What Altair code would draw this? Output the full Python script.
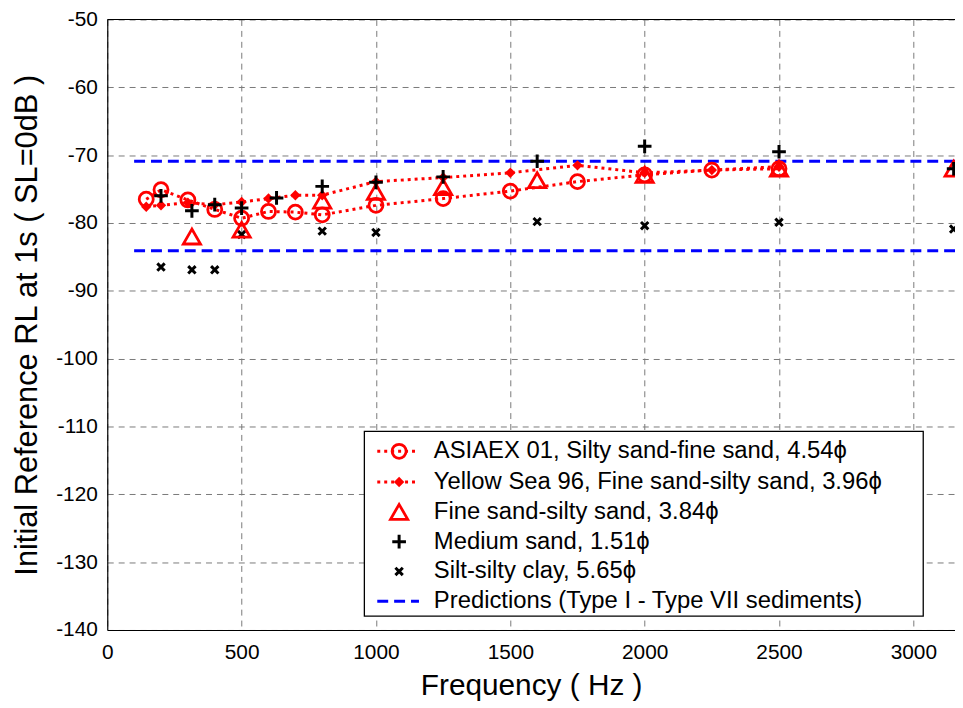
import altair as alt
import pandas as pd

# ---------------- data ----------------
asiaex_f = [145, 200, 300, 400, 500, 600, 700, 800, 1000, 1250, 1500, 1750, 2000, 2250, 2500]
asiaex_v = [-76.5, -75.1, -76.6, -78.0, -79.3, -78.3, -78.4, -78.8, -77.4, -76.4, -75.3, -73.9, -72.9, -72.2, -72.0]

yellow_f = [145, 200, 300, 400, 500, 600, 700, 800, 1000, 1250, 1500, 1750, 2000, 2250, 2500]
yellow_v = [-77.6, -77.4, -77.0, -77.3, -76.9, -76.4, -75.9, -75.9, -73.9, -73.3, -72.6, -71.5, -72.6, -72.2, -71.7]

fine_f = [315, 500, 800, 1000, 1250, 1600, 2000, 2500, 3150]
fine_v = [-82.0, -81.0, -76.7, -75.4, -74.7, -73.7, -72.9, -72.0, -72.0]

medium_f = [200, 315, 400, 500, 630, 800, 1000, 1250, 1600, 2000, 2500, 3150]
medium_v = [-76.0, -78.2, -77.3, -77.8, -76.3, -74.6, -74.0, -73.2, -70.9, -68.7, -69.5, -72.0]

silt_f = [200, 315, 400, 500, 800, 1000, 1600, 2000, 2500, 3150]
silt_v = [-86.5, -86.9, -86.9, -81.7, -81.2, -81.4, -79.8, -80.4, -79.9, -80.9]

pred_levels = [-70.9, -84.1]
pred_f_range = [100, 3155]

x_ticks = [0, 500, 1000, 1500, 2000, 2500, 3000]
y_ticks = [-50, -60, -70, -80, -90, -100, -110, -120, -130, -140]

legend_labels = [
    "ASIAEX 01, Silty sand-fine sand, 4.54\u03d5",
    "Yellow Sea 96, Fine sand-silty sand, 3.96\u03d5",
    "Fine sand-silty sand, 3.84\u03d5",
    "Medium sand, 1.51\u03d5",
    "Silt-silty clay, 5.65\u03d5",
    "Predictions (Type I - Type VII sediments)",
]

# ---------------- styling ----------------
FONT = "Liberation Sans"
RED = "#ff0000"
BLUE = "#0000ff"
W, H = 854, 615
XMAX = 3155
PLUS = "M-1,0L1,0M0,-1L0,1"
XMARK = "M-1,-1L1,1M-1,1L1,-1"
PLUS_SIZE = 190
XMARK_SIZE = 55
CIRCLE_SIZE = 200
TRI_SIZE = 300

xs = alt.Scale(domain=[0, XMAX], nice=False, zero=False)
ys = alt.Scale(domain=[-140, -50], nice=False, zero=False)

common_axis = dict(grid=True, gridDash=[6, 5], gridColor="#7a7a7a", gridWidth=1, gridOpacity=1,
                   domainColor="black", domainWidth=1.2, tickColor="black", tickSize=0,
                   labelFont=FONT, labelFontSize=21, labelColor="black",
                   labelExpr="'' + datum.value", labelFlush=False,
                   titleFont=FONT, titleFontWeight="normal", titleColor="black")
xax = alt.Axis(values=x_ticks, title="Frequency ( Hz )", labelPadding=12,
               titleFontSize=30, titlePadding=8, **common_axis)
yax = alt.Axis(values=y_ticks, title="Initial Reference RL at 1s ( SL=0dB )", labelPadding=10,
               titleFontSize=31, titlePadding=12, **common_axis)

df_a = pd.DataFrame({"f": asiaex_f, "v": asiaex_v})
df_y = pd.DataFrame({"f": yellow_f, "v": yellow_v})
df_fi = pd.DataFrame({"f": fine_f, "v": fine_v})
df_m = pd.DataFrame({"f": medium_f, "v": medium_v})
df_s = pd.DataFrame({"f": silt_f, "v": silt_v})
df_p = pd.DataFrame({"lvl": pred_levels, "f1": [pred_f_range[0]] * 2, "f2": [pred_f_range[1]] * 2})

base_enc = dict(x=alt.X("f:Q", scale=xs, axis=xax), y=alt.Y("v:Q", scale=ys, axis=yax))

layers = []
# top frame line
layers.append(alt.Chart(pd.DataFrame({"v": [-50]})).mark_rule(color="black", strokeWidth=1.2).encode(
    x=alt.value(0), x2=alt.value(W), y=alt.Y("v:Q", scale=ys, axis=yax)))

# predictions
layers.append(alt.Chart(df_p).mark_rule(color=BLUE, strokeWidth=3, strokeDash=[11, 6]).encode(
    x=alt.X("f1:Q", scale=xs, axis=xax), x2="f2:Q", y=alt.Y("lvl:Q", scale=ys, axis=yax)))

# silt
layers.append(alt.Chart(df_s).mark_point(shape=XMARK, size=XMARK_SIZE, filled=False, color="black",
                                          strokeWidth=3, opacity=1).encode(**base_enc))
# ASIAEX
layers.append(alt.Chart(df_a).mark_line(color=RED, strokeWidth=3, strokeDash=[3, 4]).encode(**base_enc))
layers.append(alt.Chart(df_a).mark_point(shape="circle", size=CIRCLE_SIZE, filled=False, color=RED,
                                          strokeWidth=2.8, opacity=1).encode(**base_enc))
# Yellow Sea
layers.append(alt.Chart(df_y).mark_line(color=RED, strokeWidth=3, strokeDash=[3, 4]).encode(**base_enc))
layers.append(alt.Chart(df_y).mark_point(shape="diamond", size=110, filled=True, color=RED,
                                          opacity=1).encode(**base_enc))
# Fine sand
layers.append(alt.Chart(df_fi).mark_point(shape="triangle-up", size=TRI_SIZE, filled=False, color=RED,
                                           strokeWidth=2.8, opacity=1).encode(**base_enc))
# Medium sand
layers.append(alt.Chart(df_m).mark_point(shape=PLUS, size=PLUS_SIZE, filled=False, color="black",
                                          strokeWidth=3, opacity=1).encode(**base_enc))

# ---------------- legend (drawn inside the plot) ----------------
LX1, LX2, LY1, LY2 = 259, 822, 415, 601
row_y = [435, 466, 496, 526, 556, 586]
sym_x = 294
line_x1, line_x2 = 272, 314
text_x = 329

one = pd.DataFrame({"a": [0]})
layers.append(alt.Chart(one).mark_rect(fill="white", stroke="black", strokeWidth=1.3).encode(
    x=alt.value(LX1), x2=alt.value(LX2), y=alt.value(LY1), y2=alt.value(LY2)))
for i, lab in enumerate(legend_labels):
    layers.append(alt.Chart(one).mark_text(align="left", baseline="middle", font=FONT,
                                           fontSize=24, color="black").encode(
        x=alt.value(text_x), y=alt.value(row_y[i]), text=alt.value(lab)))
for i in (0, 1):
    layers.append(alt.Chart(one).mark_rule(color=RED, strokeWidth=3, strokeDash=[3, 4]).encode(
        x=alt.value(line_x1), x2=alt.value(line_x2), y=alt.value(row_y[i])))
layers.append(alt.Chart(one).mark_rule(color=BLUE, strokeWidth=3, strokeDash=[11, 6]).encode(
    x=alt.value(line_x1), x2=alt.value(line_x2), y=alt.value(row_y[5])))
layers.append(alt.Chart(one).mark_point(shape="circle", size=CIRCLE_SIZE, filled=False, color=RED,
                                        strokeWidth=2.8, opacity=1).encode(
    x=alt.value(sym_x), y=alt.value(row_y[0])))
layers.append(alt.Chart(one).mark_point(shape="diamond", size=110, filled=True, color=RED,
                                        opacity=1).encode(
    x=alt.value(sym_x), y=alt.value(row_y[1])))
layers.append(alt.Chart(one).mark_point(shape="triangle-up", size=TRI_SIZE, filled=False, color=RED,
                                        strokeWidth=2.8, opacity=1).encode(
    x=alt.value(sym_x), y=alt.value(row_y[2])))
layers.append(alt.Chart(one).mark_point(shape=PLUS, size=PLUS_SIZE, filled=False, color="black",
                                        strokeWidth=3, opacity=1).encode(
    x=alt.value(sym_x), y=alt.value(row_y[3])))
layers.append(alt.Chart(one).mark_point(shape=XMARK, size=XMARK_SIZE, filled=False, color="black",
                                        strokeWidth=3, opacity=1).encode(
    x=alt.value(sym_x), y=alt.value(row_y[4])))

chart = alt.layer(*layers).properties(
    width=W, height=H,
    padding={"left": 100, "top": 9, "right": 0, "bottom": 75},
    autosize=alt.AutoSizeParams(type="none"),
    background="white",
).configure_view(stroke=None)

chart.save("out.html", embed_options={"renderer": "svg", "actions": False})
